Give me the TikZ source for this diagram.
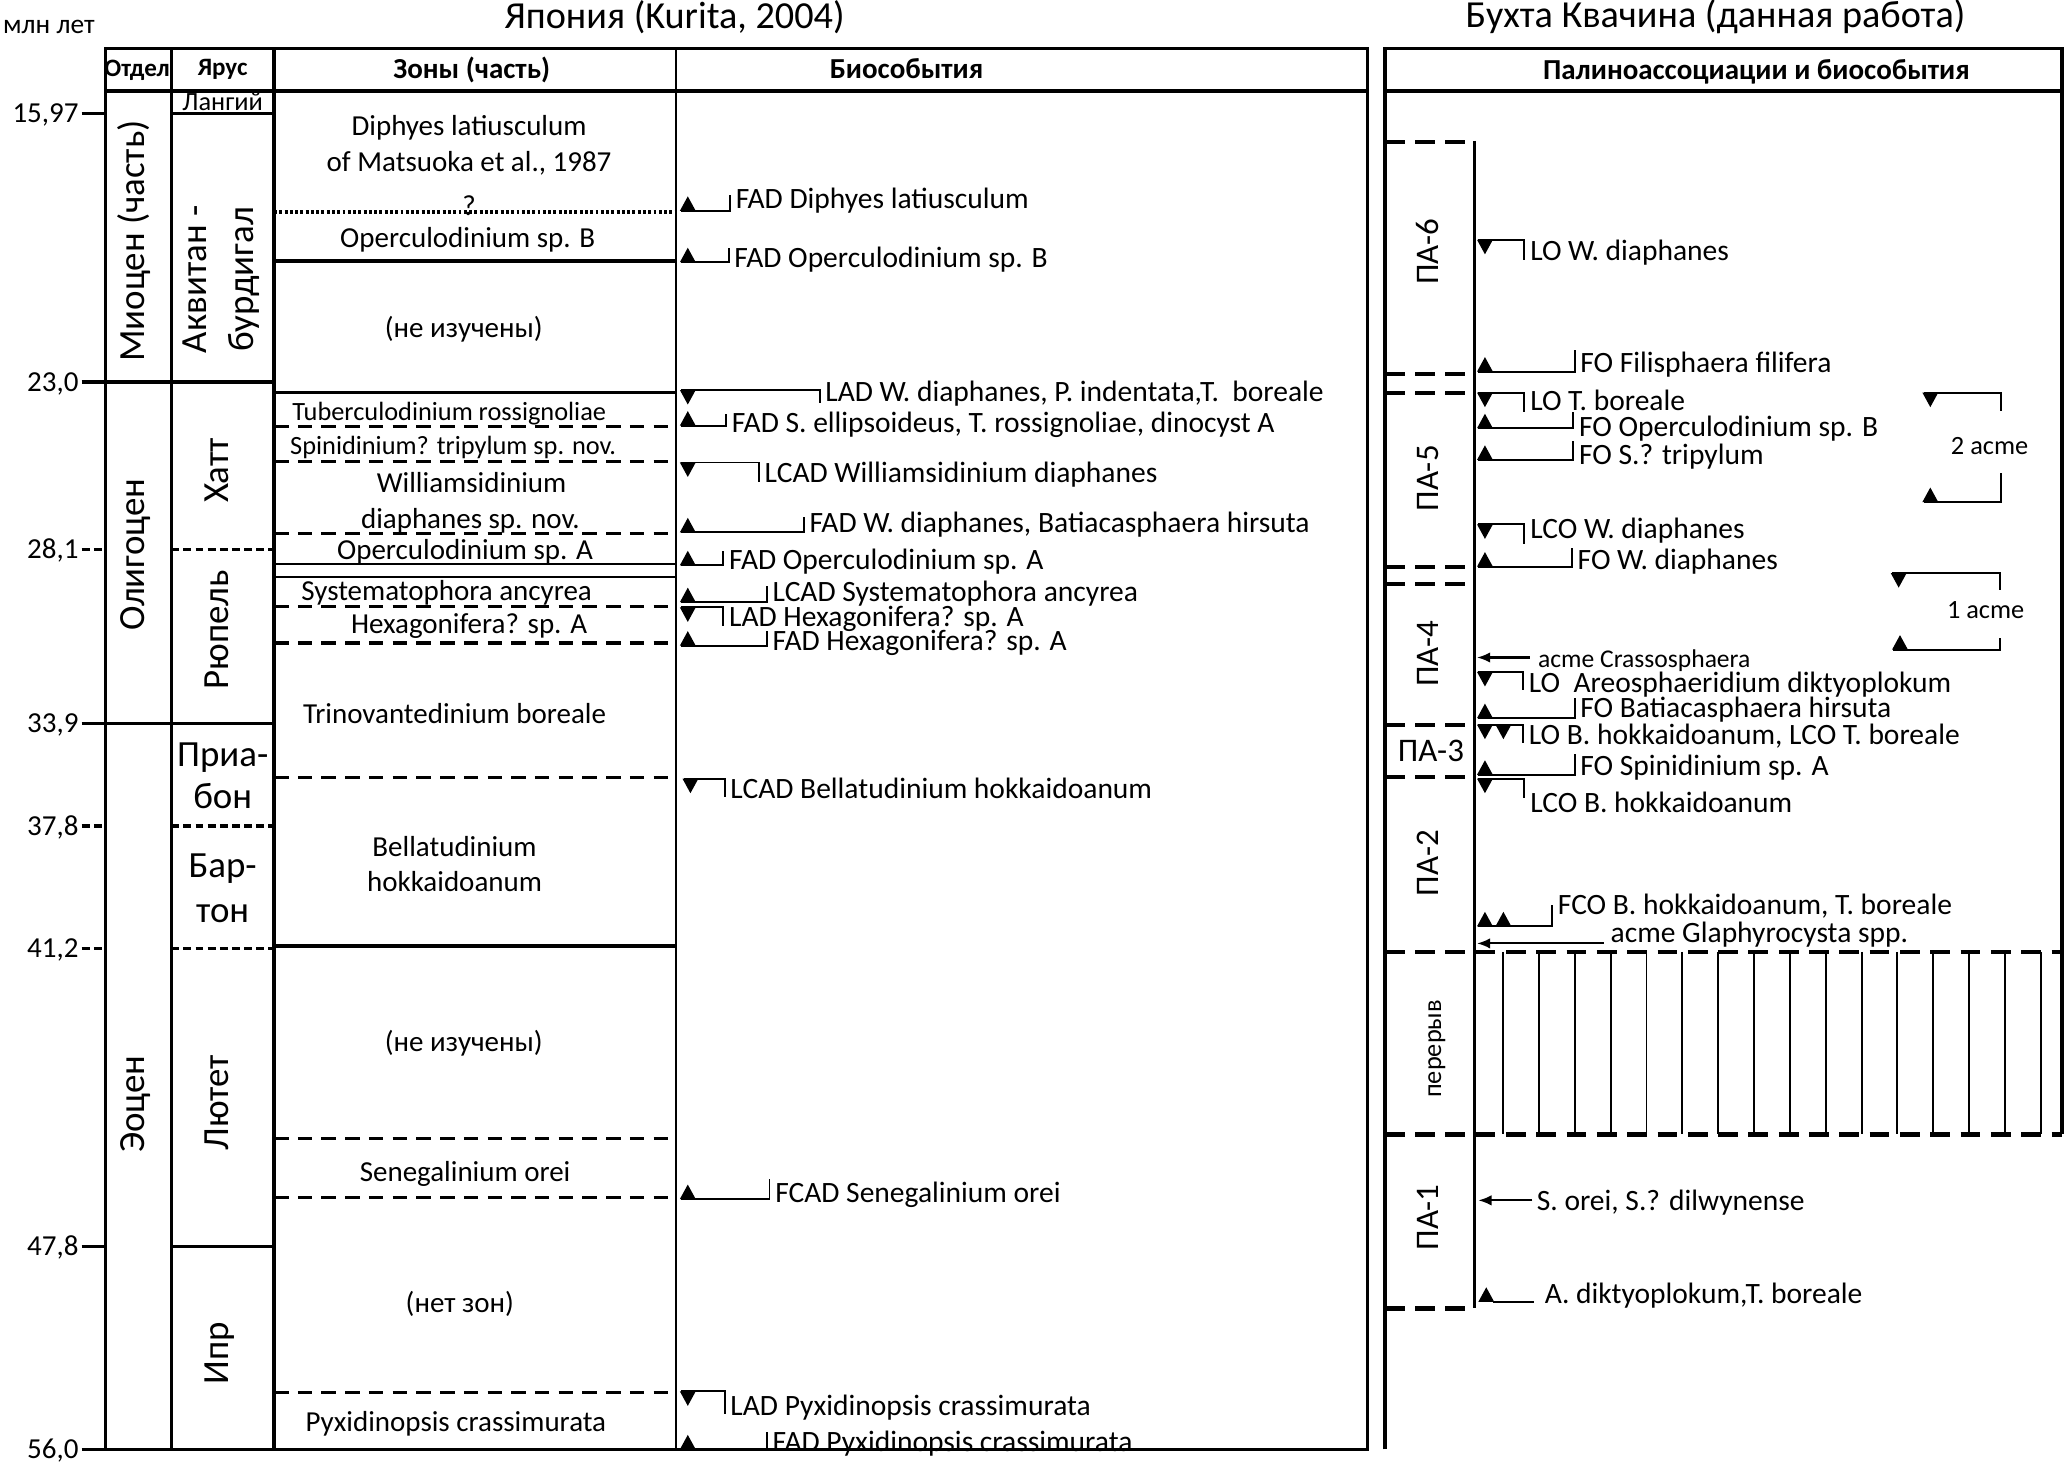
\documentclass[tikz,border=0pt]{standalone}
\usepackage{fontspec}
\setmainfont{Carlito}
\usetikzlibrary{arrows.meta}
\newcommand\tup[2]{\fill (#1-6,#2) -- (#1+6,#2) -- (#1,#2-11) -- cycle;}
\newcommand\tdn[2]{\fill (#1-6,#2) -- (#1+6,#2) -- (#1,#2+11) -- cycle;}
% name, xtri, yline, xtick, yend, ytext, text
\newcommand\evU[7]{\tup{#2}{#3}\draw[ev] (#2-5,#3) -- (#4,#3) -- (#4,#5);
  \node[evt] (#1) at (#4+4,#6) {#7};}
\newcommand\evD[7]{\tdn{#2}{#3}\draw[ev] (#2-5,#3) -- (#4,#3) -- (#4,#5);
  \node[evt] (#1) at (#4+4,#6) {#7};}
\begin{document}
\begin{tikzpicture}[x=0.5pt,y=-0.5pt,
  frame/.style={line width=1.3pt},
  zsolid/.style={line width=1.3pt},
  zdash/.style={line width=1.2pt,dash pattern=on 5.5pt off 3.5pt},
  sdash/.style={line width=1.3pt,dash pattern=on 3pt off 1.6pt},
  zdot/.style={line width=1.6pt,dash pattern=on 1.1pt off 0.9pt},
  pdash/.style={line width=1.6pt,dash pattern=on 7.5pt off 4pt},
  ev/.style={line width=0.75pt},
  evt/.style={anchor=mid west,inner sep=0pt,yshift=-1.3pt,font=\fontsize{11.2}{13}\selectfont},
  evs/.style={evt,font=\fontsize{9.7}{11}\selectfont},
  zt/.style={anchor=mid,inner sep=0pt,yshift=-1pt,font=\fontsize{11}{13}\selectfont},
  zts/.style={zt,font=\fontsize{10}{12}\selectfont},
  big/.style={anchor=mid,inner sep=0pt,align=center,font=\fontsize{14}{18}\selectfont},
  bigr/.style={big,rotate=90},
  hd/.style={anchor=mid,inner sep=0pt,yshift=-0.8pt,font=\bfseries\fontsize{11}{13}\selectfont},
  hds/.style={hd,font=\bfseries\fontsize{9.5}{11}\selectfont},
  ttl/.style={anchor=mid,inner sep=0pt,font=\fontsize{14.5}{17}\selectfont},
  age/.style={anchor=mid east,inner sep=0pt,yshift=-1pt,font=\fontsize{11}{13}\selectfont},
  pa/.style={anchor=mid,inner sep=0pt,font=\fontsize{12.5}{15}\selectfont,rotate=90},
  arr/.style={line width=0.8pt,-{Latex[length=5pt,width=4pt]}},
]
\useasboundingbox (0,0) rectangle (1568,1110);
% titles
\node[anchor=mid west,inner sep=0pt,font=\fontsize{10.4}{12}\selectfont] (unit) at (2,21) {млн лет};
\node[ttl] (tJ) at (512,17) {Япония (Kurita, 2004)};
\node[ttl] (tB) at (1302,16) {Бухта Квачина (данная работа)};
% left block frame
\draw[frame] (80,37) rectangle (1038,1100);
\draw[frame] (80,69) -- (1038,69);
\draw[frame] (130,37) -- (130,1100);
\draw[frame] (208,37) -- (208,1100);
\draw[line width=1pt] (513,37) -- (513,1100);
% right block frame
\draw[frame] (1051,1100) -- (1051,37) -- (1565,37) -- (1565,861);
\draw[frame] (1051,69) -- (1565,69);
% headers
\node[hds] (hO) at (104,52) {Отдел};
\node[hds] (hY) at (169,51) {Ярус};
\node[hd] (hZ) at (358,53) {Зоны (часть)};
\node[hd] (hB) at (688,53) {Биособытия};
\node[hd] (hP) at (1333,54) {Палиноассоциации и биособытия};
% ages
\node[age] (a1) at (60,86) {15,97};
\node[age] (a2) at (60,290) {23,0};
\node[age] (a3) at (60,417) {28,1};
\node[age] (a4) at (60,549) {33,9};
\node[age] (a5) at (60,627) {37,8};
\node[age] (a6) at (60,720) {41,2};
\node[age] (a7) at (60,946) {47,8};
\node[age] (a8) at (60,1100) {56,0};
\draw[frame] (62,86) -- (80,86);
\draw[frame] (130,86) -- (208,86);
\draw[frame] (62,290) -- (208,290);
\draw[sdash] (62,417) -- (80,417); \draw[sdash] (130,417) -- (208,417);
\draw[frame] (62,549) -- (208,549);
\draw[sdash] (62,627) -- (80,627); \draw[sdash] (130,627) -- (208,627);
\draw[sdash] (62,720) -- (80,720); \draw[sdash] (130,720) -- (208,720);
\draw[frame] (62,946) -- (80,946); \draw[frame] (130,946) -- (208,946);
\draw[frame] (62,1100) -- (80,1100);
% epochs
\node[bigr] (eM) at (105,183) {Миоцен (часть)};
\node[bigr] (eO) at (105,421) {Олигоцен};
\node[bigr] (eE) at (105,838) {Эоцен};
% stages
\node[anchor=mid,inner sep=0pt,font=\fontsize{10}{12}\selectfont] (sL) at (169,79) {Лангий};
\node[big,rotate=90,anchor=center] (sA) at (168,212) {Аквитан -\\бурдигал};
\node[bigr] (sH) at (169,357) {Хатт};
\node[bigr] (sR) at (169,478) {Рюпель};
\node[big] (sP1) at (169,577) {Приа-};
\node[big] (sP2) at (169,609) {бон};
\node[big] (sB1) at (169,661) {Бар-};
\node[big] (sB2) at (169,695) {тон};
\node[bigr] (sLu) at (169,837) {Лютет};
\node[bigr] (sI) at (169,1027) {Ипр};
% zone lines
\draw[zdot] (208,161) -- (513,161);
\draw[zsolid] (208,198) -- (513,198);
\draw[zsolid] (208,298) -- (513,298);
\draw[zdash] (208,324) -- (513,324);
\draw[zdash] (208,350) -- (513,350);
\draw[zdash] (208,405) -- (513,405);
\draw[line width=1pt] (208,428) -- (513,428);
\draw[line width=1pt] (208,438) -- (513,438);
\draw[zdash] (208,460) -- (513,460);
\draw[zdash] (208,488) -- (513,488);
\draw[zdash] (208,590) -- (513,590);
\draw[zsolid] (208,718) -- (513,718);
\draw[zdash] (208,864) -- (513,864);
\draw[zdash] (208,909) -- (513,909);
\draw[zdash] (208,1057) -- (513,1057);
% zone texts
\node[zt] (z1a) at (356,96) {Diphyes latiusculum};
\node[zt] (z1b) at (356,123) {of Matsuoka et al., 1987};
\node[zt] (zq) at (356,157) {?};
\node[zt] (z2) at (355,181) {Operculodinium sp. B};
\node[zt] (z3) at (352,249) {(не изучены)};
\node[zts] (z4) at (341,312) {Tuberculodinium rossignoliae};
\node[zts] (z5) at (344,338) {Spinidinium? tripylum sp. nov.};
\node[zt] (z6a) at (358,367) {Williamsidinium};
\node[zt] (z6b) at (357,394) {diaphanes sp. nov.};
\node[zt] (z7) at (353,418) {Operculodinium sp. A};
\node[zt] (z8) at (339,449) {Systematophora ancyrea};
\node[zt] (z9) at (356,474) {Hexagonifera? sp. A};
\node[zt] (z10) at (345,542) {Trinovantedinium boreale};
\node[zt] (z11a) at (345,643) {Bellatudinium};
\node[zt] (z11b) at (345,670) {hokkaidoanum};
\node[zt] (z12) at (352,791) {(не изучены)};
\node[zt] (z13) at (353,890) {Senegalinium orei};
\node[zt] (z14) at (349,989) {(нет зон)};
\node[zt] (z15) at (346,1080) {Pyxidinopsis crassimurata};
% Japan bioevents
\evU{e1}{522}{160}{554}{148}{151}{FAD Diphyes latiusculum}
\evU{e2}{522}{199}{553}{188}{196}{FAD Operculodinium sp. B}
\evD{e3}{522}{296}{622}{306}{297}{LAD W. diaphanes, P. indentata,T.\ \ boreale}
\evU{e4}{522}{323}{551}{314}{321}{FAD S. ellipsoideus, T. rossignoliae, dinocyst A}
\evD{e5}{522}{351}{576}{366}{359}{LCAD Williamsidinium diaphanes}
\evU{e6}{522}{404}{610}{392}{397}{FAD W. diaphanes, Batiacasphaera hirsuta}
\evU{e7}{522}{429}{549}{418}{425}{FAD Operculodinium sp. A}
\evU{e8}{522}{457}{582}{445}{449}{LCAD Systematophora ancyrea}
\evD{e9}{522}{461}{549}{475}{468}{LAD Hexagonifera? sp. A}
\evU{e10}{522}{490}{582}{479}{486}{FAD Hexagonifera? sp. A}
\evD{e11}{524}{591}{550}{605}{599}{LCAD Bellatudinium hokkaidoanum}
\evU{e12}{522}{910}{584}{895}{905}{FCAD Senegalinium orei}
\evD{e13}{522}{1056}{550}{1073}{1067}{LAD Pyxidinopsis crassimurata}
\evU{e14}{522}{1100}{582}{1087}{1094}{FAD Pyxidinopsis crassimurata}
% palynozones
\draw[pdash] (1051,107.6) -- (1119,107.6);
\draw[pdash] (1051,284) -- (1119,284);
\draw[pdash] (1051,298) -- (1119,298);
\draw[pdash] (1051,430.5) -- (1119,430.5);
\draw[pdash] (1051,443.5) -- (1119,443.5);
\draw[pdash] (1051,550) -- (1119,550);
\draw[pdash] (1051,589.6) -- (1119,589.6);
\draw[pdash] (1051,993) -- (1119,993);
\draw[pdash] (1051,722.5) -- (1565,722.5);
\draw[pdash] (1051,861) -- (1565,861);
\draw[line width=1.1pt] (1119,107) -- (1119,993);
\draw[ev] (1141,722.5) -- (1141,861);
\foreach \k in {0,...,14} \draw[ev] (1168+27.2*\k,722.5) -- (1168+27.2*\k,861);
\node[pa] (p6) at (1087,191) {ПА-6};
\node[pa] (p5) at (1087,363) {ПА-5};
\node[pa] (p4) at (1087,496) {ПА-4};
\node[pa,rotate=-90] (p3) at (1086,573) {ПА-3};
\node[pa] (p2) at (1087,655) {ПА-2};
\node[pa,font=\fontsize{10}{12}\selectfont] (pg) at (1089,796) {перерыв};
\node[pa] (p1) at (1087,924) {ПА-1};
% Kvachina bioevents
\evD{r1}{1127}{182}{1157}{197}{190}{LO W. diaphanes}
\evU{r2}{1127}{282}{1195}{266}{275}{FO Filisphaera filifera}
\evD{r3}{1127}{298}{1157}{313}{304}{LO T. boreale}
\evU{r4}{1127}{325}{1194}{313}{324}{FO Operculodinium sp. B}
\evU{r5}{1127}{349}{1194}{335}{345}{FO S.? tripylum}
\evD{r6}{1127}{398}{1157}{413}{401}{LCO W. diaphanes}
\evU{r7}{1127}{430}{1193}{416}{425}{FO W. diaphanes}
\node[evs] (r8) at (1167,499) {acme Crassosphaera};
\coordinate (r8e) at (1121,499);
\draw[arr] (1161,499) -- (r8e);
\evD{r9}{1127}{510}{1156}{524}{518}{LO\ \ Areosphaeridium diktyoplokum}
\evU{r10}{1127}{545}{1195}{530}{537}{FO Batiacasphaera hirsuta}
\evD{r11}{1127}{550}{1156}{564}{558}{LO B. hokkaidoanum, LCO T. boreale}
\tdn{1141}{550}
\evU{r12}{1127}{588}{1195}{572}{581}{FO Spinidinium sp. A}
\evD{r13}{1127}{591}{1157}{606}{609}{LCO B. hokkaidoanum}
\evU{r14}{1127}{703}{1178}{687}{687}{FCO B. hokkaidoanum, T. boreale}
\tup{1141}{703}
\node[evt] (r15) at (1222,708) {acme Glaphyrocysta spp.};
\coordinate (g1) at (1217,716);
\coordinate (g2) at (1121,716);
\draw[arr] (g1) -- (g2);
\node[evt] (r16) at (1166,911) {S. orei, S.? dilwynense};
\coordinate (r16s) at (1163,911);
\coordinate (r16e) at (1122,911);
\draw[arr] (r16s) -- (r16e);
\tup{1128}{988}
\node[evt] (r17) at (1172,982) {A. diktyoplokum,T. boreale};
\coordinate (r17s) at (1133,988);
\coordinate (r17t) at (1164,988);
\draw[line width=0.9pt] (r17s) -- (r17t);
% acme brackets
\tdn{1465}{298}
\draw[ev] (1460,298) -- (1519,298) -- (1519,312);
\tup{1465}{381}
\draw[ev] (1460,381) -- (1519,381) -- (1519,359);
\node[zt,font=\fontsize{10}{12}\selectfont] (ac2) at (1510,338) {2 acme};
\tdn{1441}{435}
\draw[ev] (1436,435) -- (1518,435) -- (1518,448);
\tup{1442}{493}
\draw[ev] (1437,493) -- (1518,493) -- (1518,484);
\node[zt,font=\fontsize{10}{12}\selectfont] (ac1) at (1507,463) {1 acme};
\end{tikzpicture}
\end{document}
